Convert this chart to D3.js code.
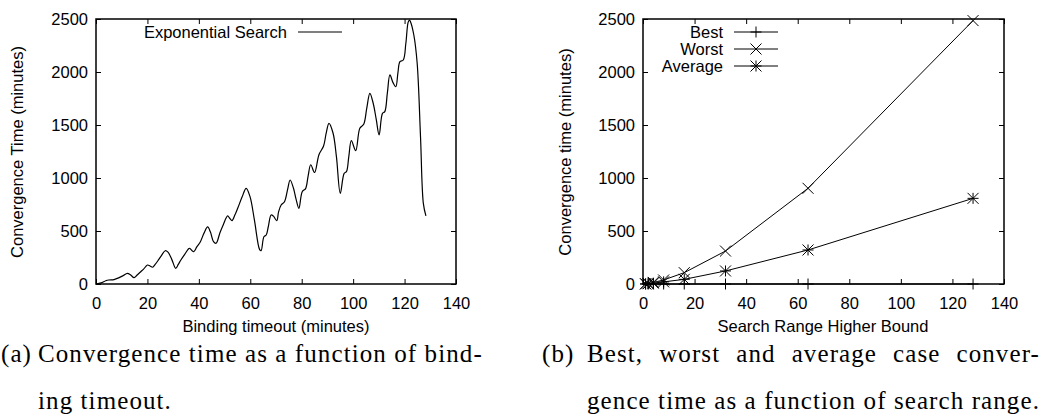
<!DOCTYPE html>
<html>
<head>
<meta charset="utf-8">
<script src="https://cdn.jsdelivr.net/npm/d3@7"></script>
<style>
  body { margin: 0; background: #fff; }
  svg { display: block; }
  .tick text { font-family: "Liberation Sans", Arial, sans-serif; font-size: 16.5px; fill: #000; }
  .tick line { stroke: #000; stroke-width: 1; }
  .lbl { font-family: "Liberation Sans", Arial, sans-serif; font-size: 16.5px; fill: #000; }
  .cap { font-family: "Liberation Serif", "DejaVu Serif", serif; font-size: 25px; fill: #000; }
</style>
</head>
<body>
<svg width="1045" height="416"></svg>
<script>
// (a) exponential search
let timeoutX = [0, 2, 3.8, 5, 7, 9, 10.5, 12.2, 13.5, 14.8, 16, 17.4, 18.5, 20, 21, 22, 23, 24, 25.5, 26.9,
  28, 29.5, 31, 32, 33, 34.5, 36.3, 37.2, 38, 39.2, 40.6, 42, 43.4, 44.5, 45.7, 46.7, 48.2, 49.5, 51.2, 52,
  52.9, 54, 55.1, 56.8, 58.4, 59.9, 61.6, 63.6, 64.2, 65.3, 66.2, 67, 68.1, 69, 70.3, 71, 72, 73.3, 74.5, 75.5,
  76.8, 77.8, 78.9, 80.2, 81.5, 82.5, 83.5, 85, 86.7, 88.5, 89.5, 90.6, 92.2, 93.5, 95, 96.5, 97.4, 98.3, 99.3, 101,
  102.6, 104.1, 105.3, 106.5, 107.8, 109, 110.1, 111.4, 112.3, 113.3, 114.3, 115.5, 116.6, 117.4, 118.2, 119.5, 120.5, 121.4,
  121.9, 122.3, 123.6, 124.9, 126.2, 127.3, 128.3];
let convTime = [0, 10, 31, 38, 42, 60, 78, 101, 85, 60, 85, 116, 140, 179, 170, 158, 185, 217, 270, 314,
  300, 230, 148, 185, 226, 280, 337, 318, 305, 350, 399, 480, 538, 490, 399, 384, 484, 560, 642, 620,
  598, 650, 714, 820, 903, 824, 604, 327, 314, 446, 462, 540, 651, 640, 598, 680, 745, 776, 890, 981,
  903, 800, 714, 871, 900, 1020, 1125, 1052, 1220, 1302, 1420, 1516, 1422, 1201, 855, 1044, 1060, 1200, 1352, 1258,
  1469, 1507, 1660, 1799, 1705, 1550, 1406, 1610, 1626, 1800, 1972, 1900, 1861, 1990, 2097, 2113, 2271, 2470,
  2490, 2475, 2349, 2082, 1390, 761, 642];

// (b) best / worst / average
let rangeX = [1, 2, 4, 8, 16, 32, 64, 128];
let best = [0, 0, 0, 0, 0, 0, 0, 0];
let worst = [2, 5, 15, 38, 107, 311, 903, 2485];
let average = [1, 3, 8, 20, 44, 123, 321, 808];

let xTicks = [0, 20, 40, 60, 80, 100, 120, 140];
let yTicks = [0, 500, 1000, 1500, 2000, 2500];

let svg = d3.select('svg');

function frame(left, right, top, bottom) {
  let x = d3.scaleLinear().domain([0, 140]).range([left, right]);
  let y = d3.scaleLinear().domain([0, 2500]).range([bottom, top]);
  svg.append('g').attr('transform', `translate(0,${bottom})`)
    .call(d3.axisBottom(x).tickValues(xTicks).tickFormat(d3.format('d')).tickSize(-5).tickPadding(13))
    .call(g => g.select('.domain').remove());
  svg.append('g').attr('transform', `translate(0,${top})`)
    .call(d3.axisTop(x).tickValues(xTicks).tickSize(-5).tickFormat(''))
    .call(g => g.select('.domain').remove());
  svg.append('g').attr('transform', `translate(${left},0)`)
    .call(d3.axisLeft(y).tickValues(yTicks).tickFormat(d3.format('d')).tickSize(-5).tickPadding(8))
    .call(g => g.select('.domain').remove());
  svg.append('g').attr('transform', `translate(${right},0)`)
    .call(d3.axisRight(y).tickValues(yTicks).tickSize(-5).tickFormat(''))
    .call(g => g.select('.domain').remove());
  svg.append('rect')
    .attr('x', left).attr('y', top)
    .attr('width', right - left).attr('height', bottom - top)
    .attr('fill', 'none').attr('stroke', '#000').attr('stroke-width', 1.5);
  return { x, y };
}

// ---- chart (a)
let a = frame(96, 456, 19, 284);
let curve = d3.line()
  .x((d, i) => a.x(timeoutX[i]))
  .y(d => a.y(d))
  .curve(d3.curveCatmullRom.alpha(0.5));
svg.append('path')
  .attr('d', curve(convTime))
  .attr('fill', 'none').attr('stroke', '#000').attr('stroke-width', 1.2);

svg.append('text').attr('class', 'lbl')
  .attr('x', 287).attr('y', 38).attr('text-anchor', 'end')
  .text('Exponential Search');
svg.append('line')
  .attr('x1', 298).attr('x2', 342).attr('y1', 32).attr('y2', 32)
  .attr('stroke', '#000').attr('stroke-width', 1.2);

svg.append('text').attr('class', 'lbl')
  .attr('transform', 'translate(23,152) rotate(-90)')
  .attr('text-anchor', 'middle')
  .text('Convergence Time (minutes)');
svg.append('text').attr('class', 'lbl')
  .attr('x', 276).attr('y', 332).attr('text-anchor', 'middle')
  .text('Binding timeout (minutes)');

// ---- chart (b)
let b = frame(643, 1004, 19, 284);
let series = [
  { name: 'Best', values: best, mark: 'plus' },
  { name: 'Worst', values: worst, mark: 'cross' },
  { name: 'Average', values: average, mark: 'star' }
];

function marker(g, cx, cy, type) {
  let s = 5.5;
  let p = '';
  if (type === 'plus' || type === 'star') p += `M${cx - s},${cy}H${cx + s}M${cx},${cy - s}V${cy + s}`;
  if (type === 'cross' || type === 'star') p += `M${cx - s},${cy - s}L${cx + s},${cy + s}M${cx - s},${cy + s}L${cx + s},${cy - s}`;
  g.append('path').attr('d', p).attr('stroke', '#000').attr('stroke-width', 1).attr('fill', 'none');
}

let seg = d3.line().x((d, i) => b.x(rangeX[i])).y(d => b.y(d));
series.forEach((s, k) => {
  let g = svg.append('g');
  g.append('path').attr('d', seg(s.values))
    .attr('fill', 'none').attr('stroke', '#000').attr('stroke-width', 1);
  s.values.forEach((v, i) => marker(g, b.x(rangeX[i]), b.y(v), s.mark));

  let ly = 32 + k * 17;
  svg.append('text').attr('class', 'lbl')
    .attr('x', 723).attr('y', ly + 6).attr('text-anchor', 'end')
    .text(s.name);
  svg.append('line')
    .attr('x1', 734).attr('x2', 778).attr('y1', ly).attr('y2', ly)
    .attr('stroke', '#000').attr('stroke-width', 1);
  marker(svg, 756, ly, s.mark);
});

svg.append('text').attr('class', 'lbl')
  .attr('transform', 'translate(571,152) rotate(-90)')
  .attr('text-anchor', 'middle')
  .text('Convergence time (minutes)');
svg.append('text').attr('class', 'lbl')
  .attr('x', 823).attr('y', 332).attr('text-anchor', 'middle')
  .text('Search Range Higher Bound');

// ---- captions (serif, widened a little to match the LaTeX font)
let capLines = [
  { x: 1, y: 362, str: '(a)' },
  { x: 38, y: 362, str: 'Convergence time as a function of bind-' },
  { x: 38, y: 409, str: 'ing timeout.' },
  { x: 542, y: 362, str: '(b)' },
  { x: 587, y: 362, str: 'Best, worst and average case conver-', width: 453 },
  { x: 587, y: 409, str: 'gence time as a function of search range.' }
];
let probe = svg.append('text').attr('class', 'cap').text(capLines[5].str);
let ls = (453 - probe.node().getComputedTextLength()) / capLines[5].str.length;
probe.remove();

capLines.forEach(c => {
  let t = svg.append('text').attr('class', 'cap')
    .attr('x', c.x).attr('y', c.y)
    .attr('letter-spacing', ls)
    .text(c.str);
  if (c.width) {
    let natural = t.node().getComputedTextLength();
    let gaps = c.str.split(' ').length - 1;
    t.attr('word-spacing', (c.width - natural) / gaps);
  }
});
</script>
</body>
</html>
